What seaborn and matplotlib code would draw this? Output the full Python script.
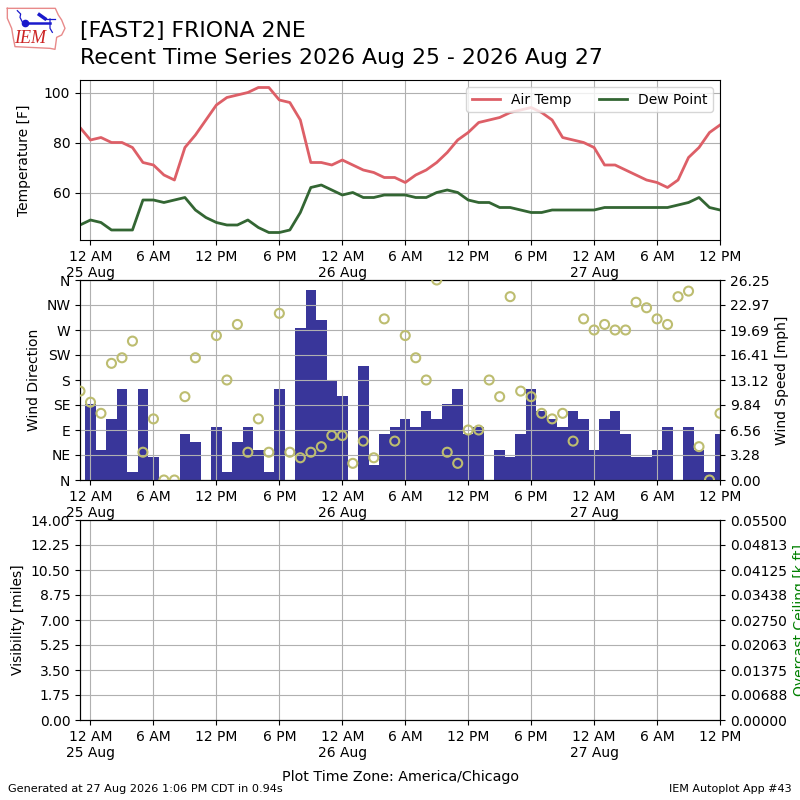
import matplotlib
matplotlib.use('Agg')
import matplotlib.pyplot as plt
import seaborn as sns

# hours since 12 AM on 25 Aug
temp_hours = list(range(-1, 61))
air_temp = [86, 81, 82, 80, 80, 78, 72, 71, 67, 65, 78, 83, 89, 95, 98, 99, 100, 102, 102, 97, 96,
            89, 72, 72, 71, 73, 71, 69, 68, 66, 66, 64, 67, 69, 72, 76, 81, 84, 88, 89, 90, 92,
            93, 94, 92, 89, 82, 81, 80, 78, 71, 71, 69, 67, 65, 64, 62, 65, 74, 78, 84, 87]
dew_point = [47, 49, 48, 45, 45, 45, 57, 57, 56, 57, 58, 53, 50, 48, 47, 47, 49, 46, 44, 44, 45,
             52, 62, 63, 61, 59, 60, 58, 58, 59, 59, 59, 58, 58, 60, 61, 60, 57, 56, 56, 54, 54,
             53, 52, 52, 53, 53, 53, 53, 53, 54, 54, 54, 54, 54, 54, 54, 55, 56, 58, 54, 53]

speed_hours = list(range(0, 61))
wind_speed = [10, 4, 8, 12, 1, 12, 3, 0, 0, 6, 5, 0, 7, 1, 5, 7, 4, 1, 12, 0, 20, 25, 21, 13, 11, 0,
              15, 2, 6, 7, 8, 7, 9, 8, 10, 12, 6, 7, 0, 4, 3, 6, 12, 9, 8, 7, 9, 8, 4, 8, 9, 6, 3,
              3, 4, 7, 0, 7, 4, 1, 6]

# no direction reported at hour 11
dir_hours = [h for h in temp_hours if h != 11]
wind_dir = [160, 140, 120, 210, 220, 250, 50, 110, 0, 0, 150, 220, 260, 180, 280, 50, 110, 50, 300,
            50, 40, 50, 60, 80, 80, 30, 70, 40, 290, 70, 260, 220, 180, 360, 50, 30, 90, 90, 180,
            150, 330, 160, 150, 120, 110, 120, 70, 290, 270, 280, 270, 270, 320, 310, 290, 280,
            330, 340, 60, 0, 120]

tick_hours = [0, 6, 12, 18, 24, 30, 36, 42, 48, 54, 60]
tick_labels = ['12 AM\n25 Aug', '6 AM', '12 PM', '6 PM', '12 AM\n26 Aug', '6 AM', '12 PM', '6 PM',
               '12 AM\n27 Aug', '6 AM', '12 PM']
compass = ['N', 'NE', 'E', 'SE', 'S', 'SW', 'W', 'NW', 'N']
dir_ticks = [0, 45, 90, 135, 180, 225, 270, 315, 360]
speed_ticks = [0, 3.28125, 6.5625, 9.84375, 13.125, 16.40625, 19.6875, 22.96875, 26.25]
speed_labels = ['0.00', '3.28', '6.56', '9.84', '13.12', '16.41', '19.69', '22.97', '26.25']
vis_ticks = [0, 1.75, 3.5, 5.25, 7, 8.75, 10.5, 12.25, 14]
vis_labels = ['0.00', '1.75', '3.50', '5.25', '7.00', '8.75', '10.50', '12.25', '14.00']
ceil_ticks = [0, 0.006875, 0.01375, 0.020625, 0.0275, 0.034375, 0.04125, 0.048125, 0.055]
ceil_labels = ['0.00000', '0.00688', '0.01375', '0.02063', '0.02750', '0.03438', '0.04125',
               '0.04813', '0.05500']

RED = '#dd5f67'
GREEN = '#336633'
BLUE = '#39369a'
TAN = '#bdbd70'

fig = plt.figure(figsize=(8, 8), dpi=100)


def time_axis(ax):
    ax.set_xlim(-1, 60)
    ax.set_xticks(tick_hours)
    ax.set_xticklabels(tick_labels)
    ax.grid(True)


# Temperature panel
ax1 = fig.add_axes([0.1, 0.7, 0.8, 0.2])
sns.lineplot(x=temp_hours, y=air_temp, color=RED, linewidth=2, label='Air Temp', ax=ax1)
sns.lineplot(x=temp_hours, y=dew_point, color=GREEN, linewidth=2, label='Dew Point', ax=ax1)
ax1.set_ylim(41, 105)
ax1.set_yticks([60, 80, 100])
ax1.set_ylabel('Temperature [F]', labelpad=9)
ax1.legend(loc='upper right', ncol=2)
time_axis(ax1)

# Wind panel, speed bars sit under the direction axes so the grid shows on top
ax2 = fig.add_axes([0.1, 0.4, 0.8, 0.25])
ax2b = ax2.twinx()
sns.barplot(x=speed_hours, y=wind_speed, native_scale=True, color=BLUE, saturation=1, width=1,
            linewidth=0, ax=ax2b)
ax2b.set_ylim(0, 26.25)
ax2b.set_yticks(speed_ticks)
ax2b.set_yticklabels(speed_labels)
ax2b.set_ylabel('Wind Speed [mph]')
ax2b.yaxis.set_label_position('right')
ax2b.yaxis.tick_right()
ax2.set_zorder(ax2b.get_zorder() + 1)
ax2.patch.set_visible(False)
sns.scatterplot(x=dir_hours, y=wind_dir, facecolor='none', edgecolor=TAN, linewidth=1.5, s=42,
                zorder=3, ax=ax2)
ax2.set_ylim(0, 360)
ax2.set_yticks(dir_ticks)
ax2.set_yticklabels(compass)
ax2.set_ylabel('Wind Direction')
time_axis(ax2)
ax2b.set_xlim(-1, 60)

# Visibility panel has no data in this period
ax3 = fig.add_axes([0.1, 0.1, 0.8, 0.25])
ax3.set_ylim(0, 14)
ax3.set_yticks(vis_ticks)
ax3.set_yticklabels(vis_labels)
ax3.set_ylabel('Visibility [miles]')
ax3.set_xlabel('Plot Time Zone: America/Chicago', fontsize=10.3, labelpad=7)
time_axis(ax3)
ax3b = ax3.twinx()
ax3b.set_ylim(0, 0.055)
ax3b.set_yticks(ceil_ticks)
ax3b.set_yticklabels(ceil_labels)
ax3b.set_ylabel('Overcast Ceiling [k ft]', color='green')

# Titles and footer
fig.text(0.1, 0.9615, '[FAST2] FRIONA 2NE', fontsize=15.8, va='center')
fig.text(0.1, 0.9275, 'Recent Time Series 2026 Aug 25 - 2026 Aug 27', fontsize=15.8, va='center')
fig.text(0.01, 0.0135, 'Generated at 27 Aug 2026 1:06 PM CDT in 0.94s', fontsize=8.1, va='center')
fig.text(0.989, 0.0135, 'IEM Autoplot App #43', fontsize=8, va='center', ha='right')

# IEM logo, drawn in its own little axes
logo = fig.add_axes([0, 0.925, 0.085, 0.075])
logo.set_xlim(0, 204)
logo.set_ylim(180, 0)
logo.axis('off')
logo.plot([22, 166, 175, 185, 195, 185, 170, 165, 150, 45, 40, 35, 22, 22],
          [25, 25, 45, 60, 85, 105, 112, 148, 145, 140, 115, 85, 55, 25],
          color='#e88a8a', linewidth=1)
logo.plot([75, 150], [70, 70], color='#1a1acc', linewidth=1.8)
logo.plot([75], [70], 'o', color='#1a1acc', markersize=4.5)
logo.plot([52, 62, 60, 68], [32, 42, 52, 68], color='#1a1acc', linewidth=0.9)
logo.plot([118, 135], [44, 56], color='#1a1acc', linewidth=2.5)
logo.plot([135, 165], [57, 57], color='#1a1acc', linewidth=0.9)
logo.plot([150, 150, 157], [57, 85, 97], color='#1a1acc', linewidth=0.9)
logo.text(90, 116, 'IEM', color='#cc2222', fontsize=13, style='italic', family='Liberation Serif',
          ha='center', va='center')

fig.savefig('out.png', dpi=100)
